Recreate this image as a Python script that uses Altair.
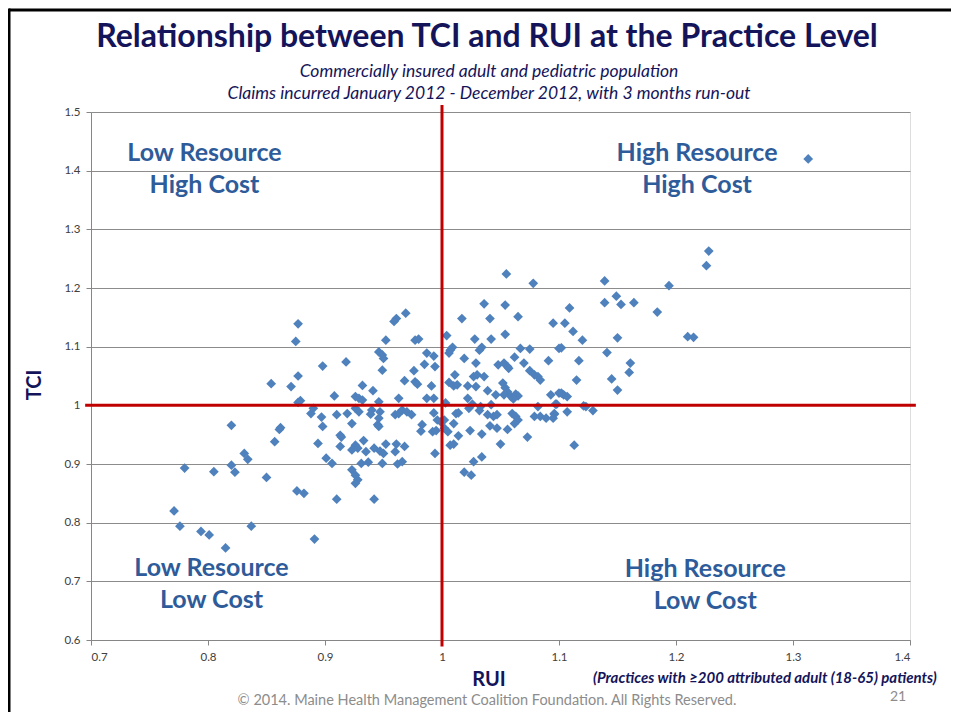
import altair as alt
import pandas as pd

# ---- data ----
rui = [0.771, 0.776, 0.780, 0.794, 0.801, 0.815, 0.837, 0.805, 0.820, 0.823,
       0.820, 0.831, 0.834, 0.850, 0.857, 0.862, 0.861, 0.854, 0.871, 0.877,
       0.877, 0.875, 0.877, 0.876, 0.882, 0.879, 0.969, 0.961, 0.959, 0.952,
       0.977, 0.980, 0.946, 0.949, 0.950, 0.987, 0.993, 0.985, 0.994, 0.918,
       0.898, 0.949, 0.976, 0.968, 0.977, 0.979, 0.932, 0.941, 0.991, 0.908,
       0.926, 0.929, 0.932, 0.963, 0.987, 0.993, 0.946, 0.890, 0.888, 0.926,
       0.929, 0.940, 0.939, 0.947, 0.960, 0.963, 0.966, 0.970, 0.974, 0.993,
       0.910, 0.919, 0.897, 0.946, 0.945, 0.946, 0.923, 0.898, 0.983, 0.982,
       0.996, 0.992, 0.995, 0.913, 0.914, 0.913, 0.894, 0.933, 0.926, 0.923,
       0.928, 0.935, 0.942, 0.947, 0.952, 0.950, 0.961, 0.960, 0.968, 0.994,
       0.901, 0.906, 0.931, 0.937, 0.949, 0.962, 0.966, 0.923, 0.926, 0.928,
       0.926, 0.910, 0.942, 0.891, 1.055, 1.078, 1.036, 1.054, 1.017, 1.041,
       1.065, 1.095, 1.004, 1.054, 1.028, 1.042, 1.009, 1.007, 1.006, 1.034,
       1.032, 1.067, 1.075, 1.100, 1.019, 1.062, 1.091, 1.029, 1.048, 1.053,
       1.056, 1.057, 1.070, 1.075, 1.079, 1.082, 1.084, 1.011, 1.027, 1.030,
       1.036, 1.052, 1.006, 1.010, 1.013, 1.022, 1.029, 1.039, 1.054, 1.056,
       1.053, 1.059, 1.063, 1.065, 1.061, 1.093, 1.100, 1.046, 1.022, 1.003,
       1.026, 1.033, 1.042, 1.082, 1.097, 1.012, 1.014, 1.023, 1.032, 1.039,
       1.044, 1.047, 1.060, 1.063, 1.065, 1.079, 1.084, 1.089, 1.096, 0.999,
       1.002, 1.010, 1.062, 1.041, 1.047, 1.056, 1.002, 1.005, 1.024, 1.034,
       1.014, 1.073, 1.010, 1.007, 1.050, 1.034, 1.027, 1.019, 1.025, 1.107,
       1.121, 1.129, 1.123, 1.113, 1.139, 1.194, 1.139, 1.149, 1.153, 1.164,
       1.184, 1.109, 1.105, 1.112, 1.120, 1.150, 1.210, 1.215, 1.102, 1.141,
       1.117, 1.161, 1.160, 1.115, 1.145, 1.150, 1.102, 1.104, 1.107, 1.098,
       1.096, 1.095, 1.313, 1.228, 1.226]

tci = [0.820, 0.794, 0.893, 0.785, 0.779, 0.757, 0.794, 0.887, 0.898, 0.886,
       0.966, 0.918, 0.908, 0.877, 0.938, 0.962, 0.959, 1.037, 1.032, 1.005,
       1.050, 1.109, 1.139, 0.854, 0.850, 1.008, 1.157, 1.148, 1.143, 1.111,
       1.111, 1.113, 1.091, 1.086, 1.080, 1.089, 1.084, 1.070, 1.066, 1.074,
       1.067, 1.060, 1.059, 1.042, 1.040, 1.036, 1.034, 1.025, 1.033, 1.016,
       1.015, 1.012, 1.009, 1.012, 1.012, 1.012, 1.006, 0.995, 0.986, 0.995,
       0.989, 0.992, 0.985, 0.989, 0.984, 0.986, 0.992, 0.989, 0.984, 0.987,
       0.984, 0.986, 0.980, 0.978, 0.967, 0.964, 0.969, 0.964, 0.967, 0.956,
       0.975, 0.955, 0.957, 0.949, 0.946, 0.930, 0.935, 0.940, 0.932, 0.924,
       0.927, 0.921, 0.927, 0.922, 0.934, 0.918, 0.934, 0.921, 0.930, 0.918,
       0.910, 0.901, 0.901, 0.903, 0.901, 0.900, 0.904, 0.890, 0.881, 0.873,
       0.867, 0.840, 0.840, 0.772, 1.224, 1.208, 1.173, 1.171, 1.148, 1.148,
       1.151, 1.140, 1.119, 1.121, 1.113, 1.113, 1.099, 1.094, 1.089, 1.099,
       1.094, 1.097, 1.096, 1.097, 1.080, 1.082, 1.076, 1.072, 1.069, 1.072,
       1.066, 1.063, 1.072, 1.059, 1.052, 1.049, 1.043, 1.052, 1.049, 1.052,
       1.049, 1.038, 1.039, 1.033, 1.035, 1.033, 1.032, 1.025, 1.030, 1.023,
       1.018, 1.015, 1.019, 1.016, 1.011, 1.018, 1.021, 1.018, 1.012, 1.004,
       1.002, 0.998, 1.001, 0.998, 1.002, 0.986, 0.987, 0.995, 0.991, 0.984,
       0.981, 0.984, 0.986, 0.981, 0.975, 0.981, 0.981, 0.978, 0.985, 0.972,
       0.975, 0.969, 0.969, 0.965, 0.961, 0.959, 0.961, 0.955, 0.957, 0.951,
       0.948, 0.946, 0.934, 0.932, 0.934, 0.912, 0.904, 0.886, 0.881, 0.989,
       0.999, 0.991, 0.998, 0.932, 1.212, 1.204, 1.175, 1.186, 1.172, 1.175,
       1.159, 1.166, 1.140, 1.126, 1.111, 1.115, 1.117, 1.116, 1.098, 1.090,
       1.076, 1.072, 1.056, 1.043, 1.045, 1.026, 1.021, 1.018, 1.015, 1.002,
       0.986, 0.978, 1.420, 1.263, 1.238]

x_ticks = [0.7, 0.8, 0.9, 1.0, 1.1, 1.2, 1.3, 1.4]
y_ticks = [0.6, 0.7, 0.8, 0.9, 1.0, 1.1, 1.2, 1.3, 1.4, 1.5]

quad_text = ["Low Resource", "High Cost", "High Resource", "High Cost",
             "Low Resource", "Low Cost", "High Resource", "Low Cost"]
quad_x = [0.797, 0.797, 1.218, 1.218, 0.803, 0.803, 1.225, 1.225]
quad_y = [1.430, 1.376, 1.430, 1.376, 0.723, 0.668, 0.721, 0.667]

# reference lines (threshold = 1.0 on both axes)
hline = pd.DataFrame({"x1": [0.695], "x2": [1.405], "y": [1.0]})
vline = pd.DataFrame({"x": [1.0], "y1": [0.589], "y2": [1.512]})

FONT = "Lato"
NAVY = "#14145A"
QUAD = "#2E5B9A"

points = pd.DataFrame({"RUI": rui, "TCI": tci})
quads = pd.DataFrame({"x": quad_x, "y": quad_y, "t": quad_text})

x_scale = alt.Scale(domain=[0.7, 1.4], nice=False, zero=False)
y_scale = alt.Scale(domain=[0.6, 1.5], nice=False, zero=False)

x_axis = alt.Axis(values=x_ticks, format=".1~f", title=None, grid=False,
                  domainColor="#868686", tickColor="#868686", tickSize=5,
                  labelColor="#404040", labelFont=FONT, labelFontSize=11.5,
                  labelPadding=6)
y_axis = alt.Axis(values=y_ticks, format=".1~f", title=None, grid=True,
                  gridColor="#8C8C8C", gridWidth=1,
                  domainColor="#868686", tickColor="#868686", tickSize=5,
                  labelColor="#404040", labelFont=FONT, labelFontSize=11.5,
                  labelPadding=6)

scatter = alt.Chart(points).mark_point(
    shape="diamond", filled=True, size=95, color="#4F81BD", opacity=1
).encode(
    x=alt.X("RUI:Q", scale=x_scale, axis=x_axis),
    y=alt.Y("TCI:Q", scale=y_scale, axis=y_axis),
)

h_rule = alt.Chart(hline).mark_rule(color="#C00000", strokeWidth=3).encode(
    x=alt.X("x1:Q", scale=x_scale, axis=x_axis), x2="x2",
    y=alt.Y("y:Q", scale=y_scale, axis=y_axis))
v_rule = alt.Chart(vline).mark_rule(color="#C00000", strokeWidth=3).encode(
    x=alt.X("x:Q", scale=x_scale, axis=x_axis),
    y=alt.Y("y1:Q", scale=y_scale, axis=y_axis), y2="y2")

quad_labels = alt.Chart(quads).mark_text(
    font=FONT, fontSize=25, fontWeight="bold", color=QUAD
).encode(x=alt.X("x:Q", scale=x_scale, axis=x_axis),
         y=alt.Y("y:Q", scale=y_scale, axis=y_axis), text="t:N")

one = pd.DataFrame({"k": [0]})


def label(text, x, y, **kw):
    return alt.Chart(one).mark_text(text=text, **kw).encode(
        x=alt.value(x), y=alt.value(y))


title = label("Relationship between TCI and RUI at the Practice Level", 396, -75,
              font=FONT, fontSize=32, fontWeight="bold", color=NAVY)
sub1 = label("Commercially insured adult and pediatric population", 398, -40,
             font=FONT, fontSize=17.5, fontStyle="italic", color=NAVY)
sub2 = label("Claims incurred January 2012 - December 2012, with 3 months run-out", 398, -18,
             font=FONT, fontSize=17.5, fontStyle="italic", color=NAVY)
tci_t = label("TCI", -56, 273, font=FONT, fontSize=20, fontWeight="bold",
              color=NAVY, angle=270)
rui_t = label("RUI", 398, 568, font=FONT, fontSize=20, fontWeight="bold", color=NAVY)
note = label("(Practices with \u2265200 attributed  adult (18-65) patients)", 502, 566,
             font=FONT, fontSize=15, fontWeight="bold", fontStyle="italic",
             color=NAVY, align="left")
page = label("21", 807, 585, font=FONT, fontSize=14, color="#8C8C8C")
copy = label("\u00a9 2014. Maine Health Management Coalition Foundation.  All Rights Reserved.",
             396, 589, font=FONT, fontSize=14.5, color="#8C8C8C")

frame_top = alt.Chart(one).mark_rule(color="black", strokeWidth=3).encode(
    x=alt.value(-82), x2=alt.value(860), y=alt.value(-102))
frame_left = alt.Chart(one).mark_rule(color="black", strokeWidth=3).encode(
    x=alt.value(-82), y=alt.value(-103.5), y2=alt.value(620))

chart = alt.layer(
    scatter, h_rule, v_rule, quad_labels,
    title, sub1, sub2, tci_t, rui_t, note, page, copy, frame_top, frame_left
).properties(
    width=819, height=528, autosize="none",
    padding={"left": 83, "top": 104, "right": 41, "bottom": 72},
).configure_view(strokeWidth=0).configure(background="white")

chart.save("out.html", embed_options={"renderer": "svg", "actions": False})
